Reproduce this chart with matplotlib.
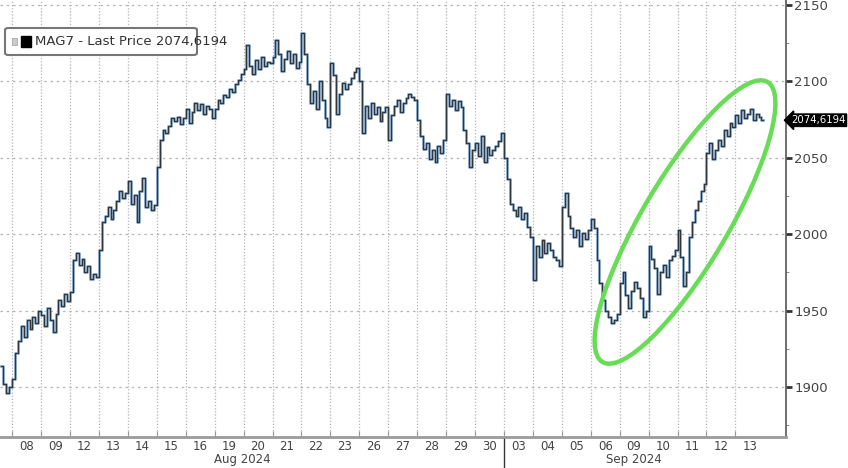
import numpy as np
import matplotlib
matplotlib.use("Agg")
import matplotlib.pyplot as plt
from matplotlib import transforms
from matplotlib.patches import Ellipse, FancyBboxPatch, Rectangle

# trading days on the x axis
day_labels = ["08", "09", "12", "13", "14", "15", "16", "19", "20", "21", "22", "23",
              "26", "27", "28", "29", "30", "03", "04", "05", "06", "09", "10", "11",
              "12", "13"]
month_labels = ["Aug 2024", "Sep 2024"]

# tail of the previous session (Aug 07)
pre_prices = [1914, 1902, 1896, 1900]

# intraday prices, 10 readings per day
aug08 = [1905, 1922, 1930, 1940, 1933, 1944, 1938, 1946, 1942, 1950]
aug09 = [1947, 1940, 1952, 1944, 1936, 1948, 1957, 1953, 1961, 1956]
aug12 = [1962, 1983, 1988, 1980, 1984, 1975, 1979, 1971, 1974, 1972]
aug13 = [1990, 2008, 2012, 2018, 2010, 2016, 2022, 2028, 2024, 2027]
aug14 = [2035, 2020, 2026, 2008, 2028, 2037, 2018, 2022, 2016, 2019]
aug15 = [2044, 2062, 2068, 2066, 2071, 2076, 2074, 2077, 2072, 2076]
aug16 = [2082, 2073, 2080, 2086, 2081, 2085, 2079, 2084, 2082, 2076]
aug19 = [2082, 2088, 2086, 2091, 2090, 2095, 2093, 2098, 2101, 2105]
aug20 = [2108, 2124, 2110, 2105, 2114, 2108, 2116, 2110, 2113, 2112]
aug21 = [2116, 2127, 2118, 2107, 2115, 2120, 2112, 2118, 2109, 2113]
aug22 = [2132, 2118, 2098, 2086, 2094, 2082, 2100, 2088, 2076, 2070]
aug23 = [2112, 2104, 2079, 2092, 2099, 2095, 2098, 2102, 2106, 2109]
aug26 = [2100, 2066, 2084, 2076, 2086, 2079, 2083, 2074, 2080, 2083]
aug27 = [2062, 2078, 2084, 2088, 2080, 2086, 2089, 2092, 2090, 2088]
aug28 = [2075, 2064, 2056, 2060, 2049, 2055, 2047, 2058, 2053, 2062]
aug29 = [2092, 2084, 2088, 2081, 2087, 2083, 2068, 2060, 2044, 2055]
aug30 = [2060, 2051, 2064, 2047, 2057, 2052, 2055, 2058, 2061, 2066]
sep03 = [2050, 2036, 2020, 2016, 2012, 2018, 2010, 2014, 2005, 1998]
sep04 = [1970, 1992, 1985, 1996, 1988, 1994, 1990, 1985, 1983, 1979]
sep05 = [2018, 2027, 2012, 2004, 1998, 2003, 1992, 2001, 1997, 2003]
sep06 = [2010, 2004, 1983, 1968, 1957, 1950, 1946, 1942, 1944, 1948]
sep09 = [1968, 1975, 1960, 1952, 1963, 1969, 1965, 1958, 1946, 1950]
sep10 = [1992, 1984, 1978, 1961, 1975, 1980, 1972, 1983, 1986, 1990]
sep11 = [2003, 1985, 1966, 1975, 1998, 2008, 2016, 2022, 2028, 2033]
sep12 = [2053, 2060, 2049, 2055, 2062, 2058, 2068, 2064, 2073, 2070]
sep13 = [2078, 2073, 2081, 2076, 2079, 2082, 2075, 2079, 2077, 2075]

last_price = 2074.6194
price_ticks = [1900, 1950, 2000, 2050, 2100, 2150]

days = [aug08, aug09, aug12, aug13, aug14, aug15, aug16, aug19, aug20, aug21,
        aug22, aug23, aug26, aug27, aug28, aug29, aug30, sep03, sep04, sep05,
        sep06, sep09, sep10, sep11, sep12, sep13]

xs = []
ys = []
for k, v in enumerate(pre_prices):
    xs.append(-0.4 + k * 0.1)
    ys.append(v)
for i, day in enumerate(days):
    for k, v in enumerate(day):
        xs.append(i + k / len(day))
        ys.append(v)
xs.append(len(days) - 1 + 0.95)
ys.append(last_price)

W, H = 848, 468
fig = plt.figure(figsize=(W / 100, H / 100), dpi=100)
fig.patch.set_facecolor("white")
ax = fig.add_axes([0, 1 - 437 / H, 786 / W, 437 / H])

# price line: blue underlay + dark step line
ax.plot(xs, ys, drawstyle="steps-post", color="#6a9fd0", lw=2.2, alpha=0.6, zorder=3)
ax.plot(xs, ys, drawstyle="steps-post", color="#30363d", lw=1.0, zorder=4)

ax.set_xlim(-0.42, 26.75)
ax.set_ylim(1867.3, 2153.3)

# grid
ax.set_xticks(np.arange(0, len(days)))
ax.set_xticks(np.arange(len(days)) + 0.5, minor=True)
ax.set_xticklabels([])
ax.set_xticklabels(day_labels, minor=True)
ax.grid(True, axis="x", which="major", color="#b5b5b5", lw=0.9, ls=(0, (1, 1.5)))
ax.set_yticks(price_ticks)
ax.set_yticks(np.arange(1875, 2151, 50), minor=True)
ax.grid(True, axis="y", which="major", color="#b5b5b5", lw=0.9, ls=(0, (2, 3)))

ax.tick_params(axis="x", which="major", direction="in", length=4, color="#999999")
ax.tick_params(axis="x", which="minor", length=0, pad=2, labelsize=8.5, labelcolor="#444444")
ax.yaxis.tick_right()
ax.tick_params(axis="y", which="major", direction="out", length=4, width=2,
               color="#333333", labelsize=9.5, labelcolor="#444444", pad=2)
ax.tick_params(axis="y", which="minor", direction="out", length=2, color="#777777")

for side in ["left", "top"]:
    ax.spines[side].set_visible(False)
ax.spines["right"].set_color("#555555")
ax.spines["right"].set_linewidth(1.2)
ax.spines["bottom"].set_color("#9a9a9a")
ax.spines["bottom"].set_linewidth(2)

# month labels and separator
trans = transforms.blended_transform_factory(ax.transData, ax.transAxes)
ax.text(7.97, -(459 - 437) / 437, month_labels[0], transform=trans, ha="center",
        va="center", fontsize=8.5, color="#444444")
ax.text(21.5, -(459 - 437) / 437, month_labels[1], transform=trans, ha="center",
        va="center", fontsize=8.5, color="#444444")
ax.plot([17, 17], [0, -0.08], transform=trans, color="#333333", lw=1, clip_on=False)

# legend box
fig.patches.append(FancyBboxPatch((5 / W, 1 - 55 / H), 192 / W, 27 / H,
                                  boxstyle="round,pad=0,rounding_size=0.004",
                                  transform=fig.transFigure, facecolor="white",
                                  edgecolor="#777777", lw=1.5, zorder=5))
fig.patches.append(Rectangle((12 / W, 1 - 45 / H), 5 / W, 7 / H, transform=fig.transFigure,
                             facecolor="#cccccc", edgecolor="#999999", lw=0.5, zorder=6))
fig.patches.append(Rectangle((21 / W, 1 - 47 / H), 10 / W, 11 / H, transform=fig.transFigure,
                             facecolor="black", edgecolor="black", zorder=6))
fig.text(35 / W, 1 - 41.5 / H, "MAG7 - Last Price 2074,6194", ha="left", va="center",
         fontsize=9.5, color="#333333", zorder=7)

# last price tag
ax.annotate("2074,6194", xy=(1.0, last_price), xycoords=("axes fraction", "data"),
            xytext=(3.5, 0), textcoords="offset points", ha="left", va="center",
            fontsize=7.3, color="white", annotation_clip=False,
            bbox=dict(boxstyle="larrow,pad=0.12", facecolor="black", edgecolor="black"))

# green highlight ellipse
fig.patches.append(Ellipse((6.85, (H - 222) / 100), 3.25, 0.86, angle=59.5,
                           transform=fig.dpi_scale_trans, fill=False,
                           edgecolor="#66dd55", lw=3.2, zorder=8))

fig.savefig("out.png", dpi=100)
